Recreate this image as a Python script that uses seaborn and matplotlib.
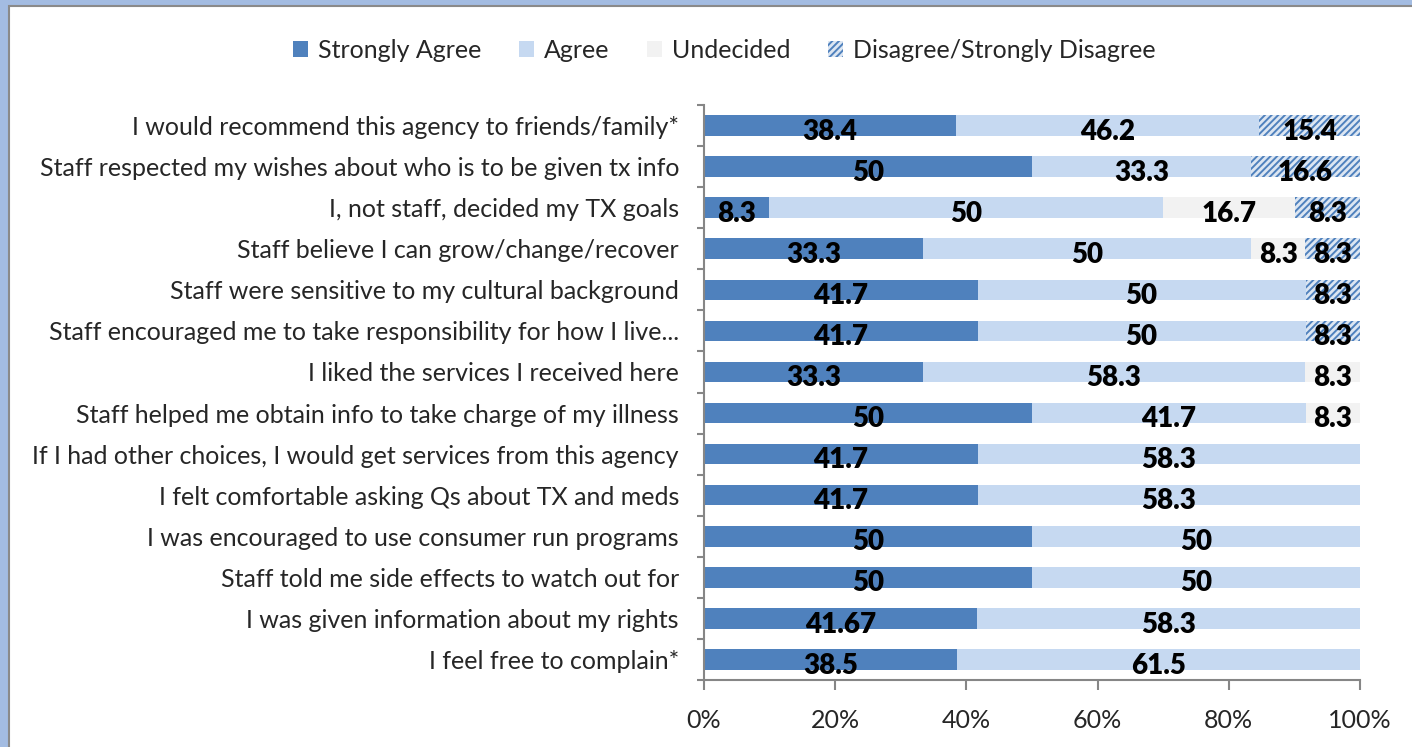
import numpy as np
import pandas as pd
import matplotlib
matplotlib.use("Agg")
import matplotlib.pyplot as plt
from matplotlib.patches import Patch, Rectangle
import seaborn as sns

categories = [
    "I would recommend this agency to friends/family*",
    "Staff respected my wishes about who is to be given tx info",
    "I, not staff, decided my TX goals",
    "Staff believe I can grow/change/recover",
    "Staff were sensitive to my cultural background",
    "Staff encouraged me to take responsibility for how I live...",
    "I liked the services I received here",
    "Staff helped me obtain info to take charge of my illness",
    "If I had other choices, I would get services from this agency",
    "I felt comfortable asking Qs about TX and meds",
    "I was encouraged to use consumer run programs",
    "Staff told me side effects to watch out for",
    "I was given information about my rights",
    "I feel free to complain*",
]
strongly_agree = [38.4, 50, 8.3, 33.3, 41.7, 41.7, 33.3, 50, 41.7, 41.7, 50, 50, 41.67, 38.5]
agree = [46.2, 33.3, 50, 50, 50, 50, 58.3, 41.7, 58.3, 58.3, 50, 50, 58.3, 61.5]
undecided = [0, 0, 16.7, 8.3, 0, 0, 8.3, 8.3, 0, 0, 0, 0, 0, 0]
disagree = [15.4, 16.6, 8.3, 8.3, 8.3, 8.3, 0, 0, 0, 0, 0, 0, 0, 0]
series_names = ["Strongly Agree", "Agree", "Undecided", "Disagree/Strongly Disagree"]
x_ticks = [0, 20, 40, 60, 80, 100]
x_tick_labels = ["0%", "20%", "40%", "60%", "80%", "100%"]

colors = ["#4F81BD", "#C6D9F1", "#F2F2F2", "#DCE6F2"]
hatch_color = "#4F81BD"

sns.set_style("white")
plt.rcParams["font.family"] = ["Lato", "DejaVu Sans"]
plt.rcParams["hatch.color"] = hatch_color
plt.rcParams["hatch.linewidth"] = 1.4

raw = np.array([strongly_agree, agree, undecided, disagree], dtype=float)
pct = raw / raw.sum(axis=0) * 100
cum = np.cumsum(pct, axis=0)

df = pd.DataFrame({"category": categories})
for i, name in enumerate(series_names):
    df[name] = cum[i]

fig = plt.figure(figsize=(14.12, 7.47), dpi=100)
fig.patch.set_facecolor("#A3BCE2")
fig.add_artist(Rectangle((9 / 1412, -0.01), 1.01, (747 - 6) / 747 + 0.01,
                         transform=fig.transFigure, facecolor="white",
                         edgecolor="#8A8A8A", linewidth=1.5, zorder=0))

ax = fig.add_axes([704 / 1412, 1 - 680 / 747, (1360 - 704) / 1412, (680 - 105) / 747])
ax.set_facecolor("none")

bar_h = 0.5
for i in reversed(range(4)):
    sns.barplot(data=df, x=series_names[i], y="category", orient="h",
                color=colors[i], width=bar_h, ax=ax, saturation=1,
                linewidth=0, edgecolor=colors[i])
n = len(categories)
for patch in ax.patches[:n]:
    patch.set_hatch("/////")
    patch.set_edgecolor(hatch_color)
    patch.set_linewidth(0)

for i in range(4):
    start = cum[i - 1] if i > 0 else np.zeros(n)
    for j in range(n):
        if raw[i, j] > 0:
            ax.text((start[j] + cum[i, j]) / 2, j + 0.15, f"{raw[i, j]:g}",
                    ha="center", va="center", fontsize=20, fontweight="heavy",
                    color="black", zorder=5)

ax.set_xlim(0, 100)
ax.set_ylim(n - 0.5, -0.5)
ax.set_xlabel("")
ax.set_ylabel("")
ax.set_xticks(x_ticks)
ax.set_xticklabels(x_tick_labels, fontsize=18)
ax.set_yticks(range(n))
ax.set_yticklabels(categories, fontsize=18)
ax.set_yticks(np.arange(-0.5, n, 1), minor=True)
ax.tick_params(axis="y", which="major", length=0, pad=18)
ax.tick_params(axis="y", which="minor", length=5, width=1.5, color="#868686", direction="out", left=True)
ax.tick_params(axis="x", which="major", length=7, width=1.5, color="#868686", direction="out",
               bottom=True, pad=14)
for s in ["top", "right"]:
    ax.spines[s].set_visible(False)
for s in ["left", "bottom"]:
    ax.spines[s].set_color("#868686")
    ax.spines[s].set_linewidth(1.5)
ax.grid(False)

handles = [Patch(facecolor=colors[0], edgecolor="none"),
           Patch(facecolor=colors[1], edgecolor="none"),
           Patch(facecolor=colors[2], edgecolor="none"),
           Patch(facecolor=colors[3], edgecolor=hatch_color, hatch="/////", linewidth=0)]
fig.legend(handles, series_names, loc="center", bbox_to_anchor=(724 / 1412, 1 - 50 / 747),
           ncol=4, frameon=False, fontsize=18, handlelength=0.6, handleheight=0.6,
           handletextpad=0.4, columnspacing=1.5)

fig.savefig("out.png", dpi=100)
